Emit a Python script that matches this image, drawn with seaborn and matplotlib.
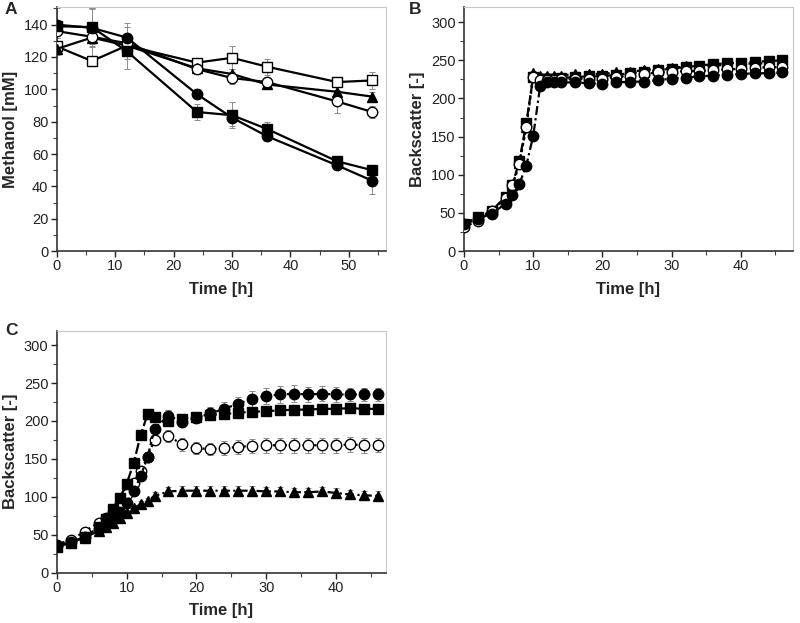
import matplotlib
matplotlib.use('Agg')

import matplotlib.pyplot as plt
import seaborn as sns
import pandas as pd
from matplotlib.ticker import MultipleLocator

sns.set_theme(style='ticks')
plt.rcParams['font.family'] = ['Liberation Sans', 'DejaVu Sans']

# ---------------- Panel A: methanol ----------------
time_a = [0, 6, 12, 24, 30, 36, 48, 54]
meoh_fcircle = [140, 138, 132, 97, 82.5, 71, 53, 43.5]
meoh_fsquare = [139, 138.5, 123.5, 86, 84, 75.5, 55.5, 50]
meoh_ocircle = [136, 132.5, 128.5, 112.5, 107, 104.5, 92.5, 86]
meoh_ftriangle = [125, 132, 127, 113, 109.5, 103, 98.5, 95.5]
meoh_osquare = [126.5, 117.5, 127, 116.5, 119.5, 114, 104.5, 105.5]
err_a_fcircle = [10, 12, 9, 3, 5, 3, 3, 8]
err_a_fsquare = [3, 12, 11, 5, 8, 4, 3, 3]
err_a_ocircle = [4, 17, 10, 3, 4, 3, 7, 4]
err_a_ftriangle = [3, 4, 4, 3, 3, 3, 3, 3]
err_a_osquare = [5, 3, 6, 3, 7, 5, 3, 5]

# ---------------- Panel B / C: backscatter ----------------
time_bc = [0, 2, 4, 6, 7, 8, 9, 10, 11, 12, 13, 14,
           16, 18, 20, 22, 24, 26, 28, 30, 32, 34, 36, 38, 40, 42, 44, 46]

bs_b_fcircle = [35, 42, 49, 62, 73, 88, 112, 151, 216, 221, 221, 221,
                221, 220, 219, 221, 222, 222, 224, 226, 227, 229, 230, 231, 232, 233, 233, 234]
bs_b_fsquare = [36, 45, 53, 71, 87, 118, 168, 228, 226, 226, 226, 227,
                228, 229, 229, 231, 233, 235, 237, 239, 241, 243, 245, 246, 247, 248, 249, 250]
bs_b_ftriangle = [35, 44, 52, 70, 86, 116, 162, 233, 230, 230, 230, 230,
                  232, 232, 232, 234, 235, 237, 239, 240, 242, 243, 243, 244, 245, 246, 246, 247]
bs_b_ocircle = [32, 39, 53, 70, 86, 114, 162, 228, 224, 224, 224, 225,
                226, 226, 226, 228, 230, 232, 234, 235, 236, 236, 237, 238, 239, 240, 241, 241]

bs_c_fsquare = [34, 39, 47, 60, 70, 84, 98, 117, 144, 181, 209, 205,
                200, 203, 205, 208, 209, 211, 212, 213, 214, 215, 215, 216, 216, 217, 216, 216]
bs_c_fcircle = [35, 40, 47, 58, 64, 71, 80, 92, 107, 127, 152, 190,
                207, 199, 204, 210, 216, 223, 229, 233, 235, 236, 235, 236, 235, 235, 235, 235]
bs_c_ocircle = [37, 43, 54, 66, 72, 80, 90, 103, 118, 134, 153, 175,
                180, 169, 164, 163, 164, 166, 167, 168, 168, 168, 168, 168, 168, 169, 168, 168]
bs_c_ftriangle = [35, 40, 46, 55, 60, 66, 72, 79, 85, 90, 95, 101,
                  107, 108, 108, 108, 108, 108, 108, 107, 107, 106, 106, 107, 105, 103, 102, 101]
err_c_fsquare = [3, 3, 3, 3, 3, 3, 3, 4, 4, 4, 4, 4,
                 5, 5, 5, 5, 5, 5, 5, 5, 5, 5, 5, 5, 5, 5, 5, 5]
err_c_fcircle = [3, 3, 3, 3, 3, 3, 3, 4, 4, 5, 5, 6,
                 7, 7, 7, 8, 9, 9, 10, 11, 11, 11, 10, 10, 10, 9, 9, 9]
err_c_ocircle = [3, 3, 3, 3, 3, 3, 4, 4, 5, 5, 6, 7,
                 8, 8, 8, 8, 9, 9, 9, 10, 10, 10, 10, 10, 10, 10, 10, 9]
err_c_ftriangle = [3, 3, 3, 3, 3, 3, 3, 3, 3, 4, 4, 5,
                   6, 6, 6, 6, 6, 6, 6, 6, 6, 6, 6, 6, 6, 6, 6, 6]

ERR_COLOR = '#8a8a8a'


def draw_series(ax, x, y, err, marker, filled, ls, ms=7.5):
    df = pd.DataFrame({'t': x, 'v': y})
    if err is not None:
        ax.errorbar(x, y, yerr=err, fmt='none', ecolor=ERR_COLOR,
                    elinewidth=0.7, capsize=2, capthick=0.7, zorder=2)
    sns.lineplot(data=df, x='t', y='v', ax=ax, color='black', linestyle=ls,
                 linewidth=1.6, marker=marker, markersize=ms,
                 markerfacecolor='black' if filled else 'white',
                 markeredgecolor='black', markeredgewidth=1.0,
                 estimator=None, sort=False, zorder=3)


def style_axes(ax, xlim, ylim, xmaj, xmin, ymaj, ymin, ylabel):
    ax.set_xlim(*xlim)
    ax.set_ylim(*ylim)
    ax.xaxis.set_major_locator(MultipleLocator(xmaj))
    ax.xaxis.set_minor_locator(MultipleLocator(xmin))
    ax.yaxis.set_major_locator(MultipleLocator(ymaj))
    ax.yaxis.set_minor_locator(MultipleLocator(ymin))
    ax.tick_params(which='major', direction='out', length=4, width=1,
                   labelsize=10.5, colors='#222222', pad=2)
    ax.tick_params(which='minor', direction='out', length=3, width=0.8,
                   colors='#444444')
    for side in ['left', 'bottom']:
        ax.spines[side].set_color('#333333')
        ax.spines[side].set_linewidth(1.2)
    for side in ['top', 'right']:
        ax.spines[side].set_color('#c8c8c8')
        ax.spines[side].set_linewidth(0.8)
    ax.set_xlabel('Time [h]', fontsize=12, fontweight='bold', labelpad=6)
    ax.set_ylabel(ylabel, fontsize=12, fontweight='bold', labelpad=4)
    ax.grid(False)
    ax.set_facecolor('white')


fig = plt.figure(figsize=(8, 6.23), dpi=100, facecolor='white')
ax_a = fig.add_axes([0.071, 0.597, 0.411, 0.392])
ax_b = fig.add_axes([0.580, 0.597, 0.411, 0.392])
ax_c = fig.add_axes([0.071, 0.081, 0.411, 0.388])

# Panel A
draw_series(ax_a, time_a, meoh_osquare, err_a_osquare, 's', False, '-')
draw_series(ax_a, time_a, meoh_ftriangle, err_a_ftriangle, '^', True, '-')
draw_series(ax_a, time_a, meoh_ocircle, err_a_ocircle, 'o', False, '-')
draw_series(ax_a, time_a, meoh_fsquare, err_a_fsquare, 's', True, '-')
draw_series(ax_a, time_a, meoh_fcircle, err_a_fcircle, 'o', True, '-')
style_axes(ax_a, (0, 56.3), (0, 151), 10, 5, 20, 10, 'Methanol [mM]')

# Panel B
err_b = [3] * len(time_bc)
draw_series(ax_b, time_bc, bs_b_fsquare, err_b, 's', True, (0, (4, 1.5)))
draw_series(ax_b, time_bc, bs_b_ftriangle, err_b, '^', True, ':')
draw_series(ax_b, time_bc, bs_b_ocircle, err_b, 'o', False, ':')
draw_series(ax_b, time_bc, bs_b_fcircle, err_b, 'o', True, (0, (4, 1.5, 1, 1.5)))
style_axes(ax_b, (0, 47.5), (0, 320), 10, 5, 50, 25, 'Backscatter [-]')

# Panel C
draw_series(ax_c, time_bc, bs_c_ftriangle, err_c_ftriangle, '^', True, (0, (4, 1.5, 1, 1.5)))
draw_series(ax_c, time_bc, bs_c_ocircle, err_c_ocircle, 'o', False, ':')
draw_series(ax_c, time_bc, bs_c_fcircle, err_c_fcircle, 'o', True, (0, (1.5, 1.5)))
draw_series(ax_c, time_bc, bs_c_fsquare, err_c_fsquare, 's', True, (0, (5, 1.5)))
style_axes(ax_c, (0, 47.1), (0, 319), 10, 5, 50, 25, 'Backscatter [-]')

# panel letters
for letter, (fx, fy) in zip(['A', 'B', 'C'], [(0.006, 0.985), (0.511, 0.985), (0.006, 0.47)]):
    fig.text(fx, fy, letter, fontsize=12.5, fontweight='bold', ha='left', va='center')

fig.savefig('out.png', dpi=100, facecolor='white')
plt.close(fig)
